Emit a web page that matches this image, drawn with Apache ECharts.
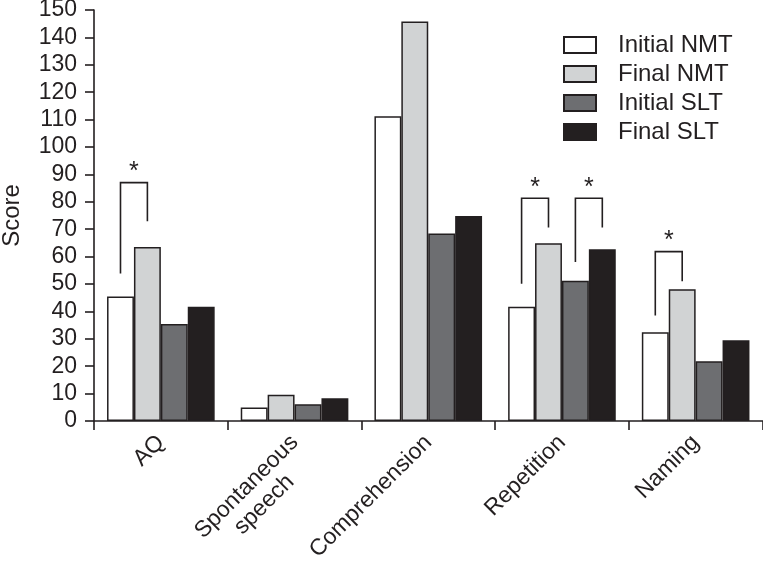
<!DOCTYPE html>
<html>
<head>
<meta charset="utf-8">
<script src="https://cdn.jsdelivr.net/npm/echarts@6/dist/echarts.min.js"></script>
<style>
html,body{margin:0;padding:0;background:#fff;}
#chart{width:763px;height:564px;}
</style>
</head>
<body>
<div id="chart"></div>
<script>
var categories = ['AQ', 'Spontaneous\nspeech', 'Comprehension', 'Repetition', 'Naming'];
var seriesNames = ['Initial NMT', 'Final NMT', 'Initial SLT', 'Final SLT'];
var initialNMT = [45.4, 4.9, 111.2, 41.7, 32.4];
var finalNMT = [63.5, 9.6, 145.8, 64.9, 48.1];
var initialSLT = [35.4, 6.1, 68.4, 51.2, 21.8];
var finalSLT = [41.7, 8.3, 74.8, 62.7, 29.5];
var yTicks = [0, 150, 10];
// significance brackets: [category index, left bar index, right bar index, left leg bottom, top, right leg bottom]
var brackets = [
  [0, 0, 1, 53.8, 87.0, 72.9],
  [3, 0, 1, 50.1, 81.3, 70.6],
  [3, 2, 3, 58.0, 81.3, 70.6],
  [4, 0, 1, 38.5, 61.8, 51.0]
];

var INK = '#231f20';
var FONT = '"Liberation Sans", Arial, Helvetica, sans-serif';
var colors = ['#ffffff', '#d1d3d4', '#6d6e71', '#231f20'];
var values = [initialNMT, finalNMT, initialSLT, finalSLT];
var CAT_GAP = 0.195;

var chart = echarts.init(document.getElementById('chart'), null, {renderer: 'canvas'});

var series = seriesNames.map(function (name, i) {
  return {
    name: name,
    type: 'bar',
    data: values[i],
    barGap: '0%',
    barCategoryGap: (CAT_GAP * 100) + '%',
    itemStyle: {color: colors[i], borderColor: INK, borderWidth: 1.5},
    emphasis: {disabled: true},
    animation: false
  };
});

series.push({
  type: 'custom',
  name: 'sig',
  data: brackets,
  silent: true,
  animation: false,
  z: 10,
  renderItem: function (params, api) {
    var cat = api.value(0);
    var li = api.value(1), ri = api.value(2);
    var center = api.coord([cat, 0])[0];
    var band = api.size([1, 0])[0];
    var bw = band * (1 - CAT_GAP) / 4;
    var xl = center - 2 * bw + (li + 0.5) * bw;
    var xr = center - 2 * bw + (ri + 0.5) * bw;
    var yl = api.coord([cat, api.value(3)])[1];
    var yt = api.coord([cat, api.value(4)])[1];
    var yr = api.coord([cat, api.value(5)])[1];
    return {
      type: 'group',
      children: [
        {
          type: 'polyline',
          shape: {points: [[xl, yl], [xl, yt], [xr, yt], [xr, yr]]},
          style: {stroke: INK, lineWidth: 1.6, fill: null}
        },
        {
          type: 'text',
          style: {
            text: '*', x: (xl + xr) / 2, y: yt + 2,
            fill: INK, font: '25px ' + FONT,
            textAlign: 'center', textVerticalAlign: 'bottom'
          }
        }
      ]
    };
  }
});

chart.setOption({
  animation: false,
  backgroundColor: '#ffffff',
  textStyle: {fontFamily: FONT},
  grid: {left: 94, right: 0.5, top: 10, bottom: 143, containLabel: false, outerBoundsMode: 'none'},
  legend: {
    data: seriesNames,
    orient: 'vertical',
    left: 558,
    top: 28,
    icon: 'rect',
    itemWidth: 32,
    itemHeight: 16,
    itemGap: 5,
    textStyle: {fontSize: 24, color: INK, fontFamily: FONT, padding: [0, 0, 0, 17]},
    selectedMode: false
  },
  xAxis: {
    type: 'category',
    data: categories,
    axisLine: {lineStyle: {color: INK, width: 1.6}},
    axisTick: {show: true, length: 9, lineStyle: {color: INK, width: 1.6}},
    axisLabel: {
      rotate: 45,
      margin: 18,
      interval: 0,
      fontSize: 23,
      color: INK,
      fontFamily: FONT,
      formatter: function (v) {
        var lines = v.split('\n');
        var out = lines.map(function (s) { return '{c|' + s + '}'; });
        if (lines.length === 2) { out.unshift('{c| }'); }
        return out.join('\n');
      },
      rich: {c: {fontSize: 23, color: INK, fontFamily: FONT, align: 'center', lineHeight: 25}}
    }
  },
  yAxis: {
    type: 'value',
    min: yTicks[0],
    max: yTicks[1],
    interval: yTicks[2],
    name: 'Score',
    nameLocation: 'middle',
    nameRotate: 90,
    nameGap: 70,
    nameTextStyle: {fontSize: 24, color: INK, fontFamily: FONT},
    axisLine: {show: true, lineStyle: {color: INK, width: 1.6}},
    axisTick: {show: true, length: 9, lineStyle: {color: INK, width: 1.6}},
    splitLine: {show: false},
    axisLabel: {fontSize: 23, color: INK, margin: 17, fontFamily: FONT}
  },
  series: series
});
</script>
</body>
</html>
